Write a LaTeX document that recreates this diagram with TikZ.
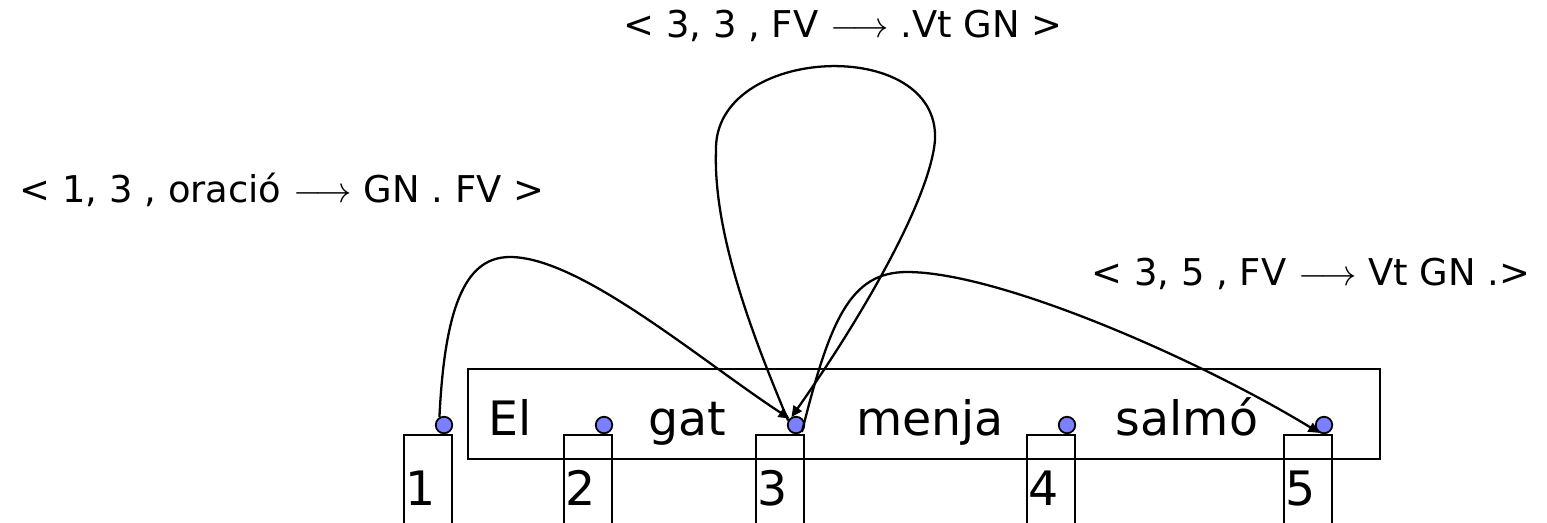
\documentclass[tikz,border=0pt]{standalone}
\usepackage{fontspec}
\setmainfont{DejaVu Sans}
\usepackage{xcolor}
\usepackage{tikz}
\usetikzlibrary{arrows.meta}
\definecolor{dotblue}{RGB}{122,128,255}

\begin{document}
\begin{tikzpicture}[
  x=0.02cm, y=-0.02cm,
  % ── node styles ──────────────────────────────────────────────────────────
  sentbox/.style={
    draw, line width=1.3pt, rectangle, inner sep=0pt,
    minimum width=18.24cm, minimum height=1.8cm
  },
  % open index boxes under the sentence
  ixbox/.style={
    draw, line width=1.3pt, rectangle, inner sep=0pt,
    minimum width=0.96cm, minimum height=2.2cm, anchor=north
  },
  % position dots
  posdot/.style={
    circle, draw, fill=dotblue, line width=1pt,
    minimum size=0.33cm, inner sep=0pt
  },
  word/.style={font=\fontsize{27}{32}\selectfont, anchor=base, inner sep=0pt},
  num/.style={font=\fontsize{27}{32}\selectfont, anchor=base west, inner sep=0pt},
  item/.style={font=\fontsize{21}{25}\selectfont, anchor=base, inner sep=0pt},
  % chart edges
  edgeline/.style={
    draw, line width=1.3pt,
    -{Triangle[length=2.2mm,width=2mm]}
  },
]

\clip (0,0) rectangle (1547,522);

% ── Sentence box and words ───────────────────────────────────────────────────
\node[sentbox] (sent) at (924,414) {};
\node[word] (w1) at (510,435)  {El};
\node[word] (w2) at (687,435)  {gat};
\node[word] (w3) at (930,435)  {menja};
\node[word] (w4) at (1187,435) {salmó};

% ── Index boxes, numbers and dots ────────────────────────────────────────────
\foreach \i/\x in {1/444, 2/604, 3/796, 4/1067, 5/1324}{
  \node[ixbox]  (b\i) at (\x-16,434) {};
  \node[num]    (n\i) at (\x-39,505) {\i};
  \node[posdot] (p\i) at (\x,425) {};
}

% ── Chart items ──────────────────────────────────────────────────────────────
\node[item] (e1) at (843,37)  {< 3, 3 , FV $\longrightarrow$ .Vt GN >};
\node[item] (e2) at (282,202) {< 1, 3 , oració $\longrightarrow$ GN . FV >};
\node[item] (e3) at (1311,285) {< 3, 5 , FV $\longrightarrow$ Vt GN .>};

% ── Edges ────────────────────────────────────────────────────────────────────
\draw[edgeline] (p1.120) .. controls (445,300) and (468,257) .. (510,257)
  .. controls (580,257) and (700,360) .. (p3.135);
\draw[edgeline] (p3.150) .. controls (750,330) and (713,230) .. (716,150)
  .. controls (714,45) and (940,35) .. (935,140)
  .. controls (930,200) and (860,320) .. (p3.120);
\draw[edgeline] (p3.-50) .. controls (830,320) and (850,272) .. (907,272)
  .. controls (1000,272) and (1200,360) .. (p5.-120);

\end{tikzpicture}
\end{document}
